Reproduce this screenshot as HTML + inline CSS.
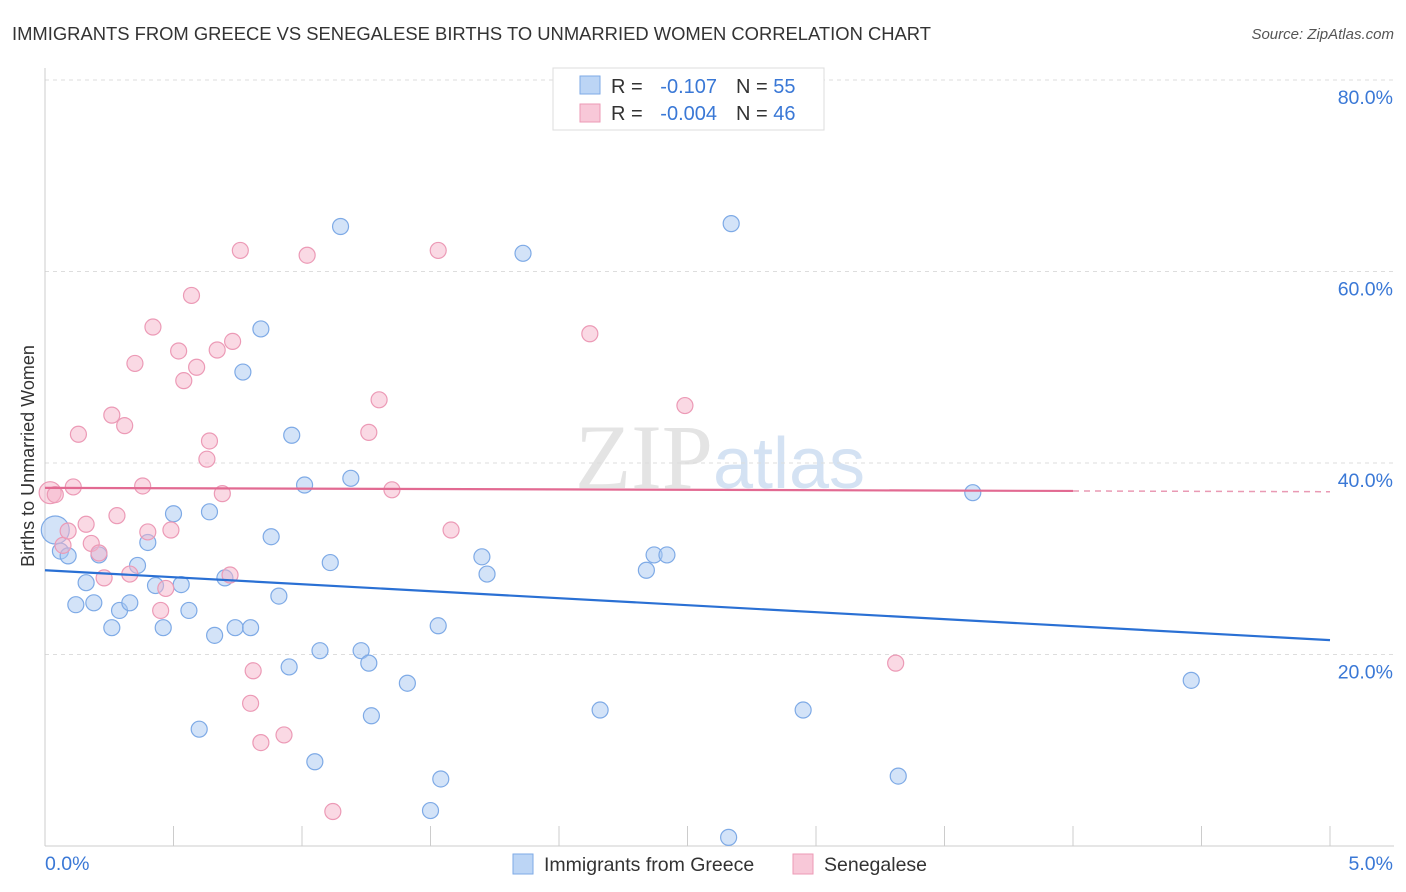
<!DOCTYPE html>
<html><head><meta charset="utf-8"><style>
body{margin:0;background:#fff;font-family:"Liberation Sans",sans-serif;}
</style></head><body>
<svg id="c" width="1406" height="892" style="display:block">
<text x="12" y="40" font-size="18.4" fill="#333">IMMIGRANTS FROM GREECE VS SENEGALESE BIRTHS TO UNMARRIED WOMEN CORRELATION CHART</text>
<text x="1394" y="39" font-size="15" fill="#555" font-style="italic" text-anchor="end">Source: ZipAtlas.com</text>
<text x="720" y="488" font-size="92" fill="#e4e4e4" text-anchor="middle" font-family="Liberation Serif,serif">ZIP<tspan fill="#d4e2f3" font-family="Liberation Sans,sans-serif" font-size="72">atlas</tspan></text>
<text transform="translate(34,456) rotate(-90)" font-size="18" fill="#333" text-anchor="middle">Births to Unmarried Women</text>
<g id="grid"></g><g id="marks"></g>
<g>
<rect x="553" y="68" width="271" height="62" fill="#fff" stroke="#ddd"/>
<rect x="580" y="76" width="20" height="18" fill="#bcd5f5" stroke="#7eaae6"/>
<rect x="580" y="104" width="20" height="18" fill="#f8c8d8" stroke="#ec9ab6"/>
<text x="611" y="93" font-size="20" fill="#333">R =</text>
<text x="717" y="93" font-size="20" fill="#3a78d6" text-anchor="end">-0.107</text>
<text x="736" y="93" font-size="20" fill="#333">N = <tspan fill="#3a78d6">55</tspan></text>
<text x="611" y="120" font-size="20" fill="#333">R =</text>
<text x="717" y="120" font-size="20" fill="#3a78d6" text-anchor="end">-0.004</text>
<text x="736" y="120" font-size="20" fill="#333">N = <tspan fill="#3a78d6">46</tspan></text>
</g>
<g>
<rect x="513" y="854" width="20" height="20" fill="#bcd5f5" stroke="#7eaae6"/>
<text x="544" y="871" font-size="19.5" fill="#333">Immigrants from Greece</text>
<rect x="793" y="854" width="20" height="20" fill="#f8c8d8" stroke="#ec9ab6"/>
<text x="824" y="871" font-size="19.5" fill="#333">Senegalese</text>
</g>
</svg>
<script>
const xTicks=[0,5];
const yTicks=[20,40,60,80];
const greeceX=[0.04,0.06,0.09,0.16,0.12,0.19,0.21,0.26,0.29,0.33,0.36,0.40,0.43,0.46,0.50,0.53,0.56,0.60,0.64,0.66,0.70,0.74,0.80,0.77,0.84,0.88,0.91,0.95,0.96,1.01,1.05,1.07,1.11,1.15,1.19,1.23,1.26,1.27,1.41,1.50,1.53,1.54,1.70,1.72,1.86,2.16,2.34,2.37,2.42,2.66,2.67,2.95,3.32,3.61,4.46];
const greeceY=[33.0,30.8,30.3,27.5,25.2,25.4,30.4,22.8,24.6,25.4,29.3,31.7,27.2,22.8,34.7,27.3,24.6,12.2,34.9,22.0,28.0,22.8,22.8,49.5,54.0,32.3,26.1,18.7,42.9,37.7,8.8,20.4,29.6,64.7,38.4,20.4,19.1,13.6,17.0,3.7,23.0,7.0,30.2,28.4,61.9,14.2,28.8,30.4,30.4,0.9,65.0,14.2,7.3,36.9,17.3];
const senX=[0.02,0.04,0.07,0.09,0.11,0.13,0.16,0.18,0.21,0.23,0.26,0.28,0.31,0.33,0.35,0.38,0.40,0.42,0.45,0.47,0.49,0.52,0.54,0.57,0.59,0.63,0.64,0.67,0.69,0.72,0.73,0.76,0.81,0.80,0.84,0.93,1.02,1.12,1.26,1.30,1.35,1.53,1.58,2.12,2.49,3.31];
const senY=[36.9,36.7,31.4,32.9,37.5,43.0,33.6,31.6,30.6,28.0,45.0,34.5,43.9,28.4,50.4,37.6,32.8,54.2,24.6,26.9,33.0,51.7,48.6,57.5,50.0,40.4,42.3,51.8,36.8,28.3,52.7,62.2,18.3,14.9,10.8,11.6,61.7,3.6,43.2,46.6,37.2,62.2,33.0,53.5,46.0,19.1];
const trendBlue=[28.8,21.5];
const trendPink=[37.4,37.0];
const X=v=>45+v/5*1285, Y=v=>846-v/20*191.5;
const NS='http://www.w3.org/2000/svg';
function mk(t,a,p){const e=document.createElementNS(NS,t);for(const k in a)e.setAttribute(k,a[k]);p.appendChild(e);return e;}
const g=document.getElementById('grid'),m=document.getElementById('marks');
yTicks.forEach(v=>{const l=mk('line',{x1:45,x2:1394,y1:Y(v),y2:Y(v),stroke:'#ddd','stroke-dasharray':'4,4'},g);


const t=mk('text',{x:1393,y:Y(v)+24,'font-size':19.5,fill:'#3a78d6','text-anchor':'end'},g);t.textContent=v.toFixed(1)+'%';

});
mk('line',{x1:45,x2:45,y1:68,y2:846,stroke:'#ccc'},g);
mk('line',{x1:45,x2:1394,y1:846,y2:846,stroke:'#ccc'},g);
for(let i=0;i<=10;i++){mk('line',{x1:X(i*0.5),x2:X(i*0.5),y1:826,y2:846,stroke:'#ccc'},g);}
xTicks.forEach(v=>{const t=mk('text',{x:v==0?45:1393,y:870,'font-size':19.5,fill:'#3a78d6','text-anchor':v==0?'start':'end'},g);t.textContent=v.toFixed(1)+'%';

});
greeceX.forEach((x,i)=>{const c=mk('circle',{cx:X(x),cy:Y(greeceY[i]),r:i==0?14:8,fill:'rgba(168,200,242,0.5)',stroke:'#7eaae6','stroke-width':1.2},m);

});
senX.forEach((x,i)=>{const c=mk('circle',{cx:X(x),cy:Y(senY[i]),r:i==0?11:8,fill:'rgba(246,180,202,0.5)',stroke:'#ec9ab6','stroke-width':1.2},m);

});
let l=mk('line',{x1:X(0),y1:Y(trendBlue[0]),x2:X(5),y2:Y(trendBlue[1]),stroke:'#2a70d4','stroke-width':2.2},m);


const py=x=>trendPink[0]+(trendPink[1]-trendPink[0])*x/5;
l=mk('line',{x1:X(0),y1:Y(py(0)),x2:X(4),y2:Y(py(4)),stroke:'#e26a92','stroke-width':2.2},m);


l=mk('line',{x1:X(4),y1:Y(py(4)),x2:X(5),y2:Y(py(5)),stroke:'#e99ab4','stroke-width':1.5,'stroke-dasharray':'6,5'},m);


</script>
</body></html>
